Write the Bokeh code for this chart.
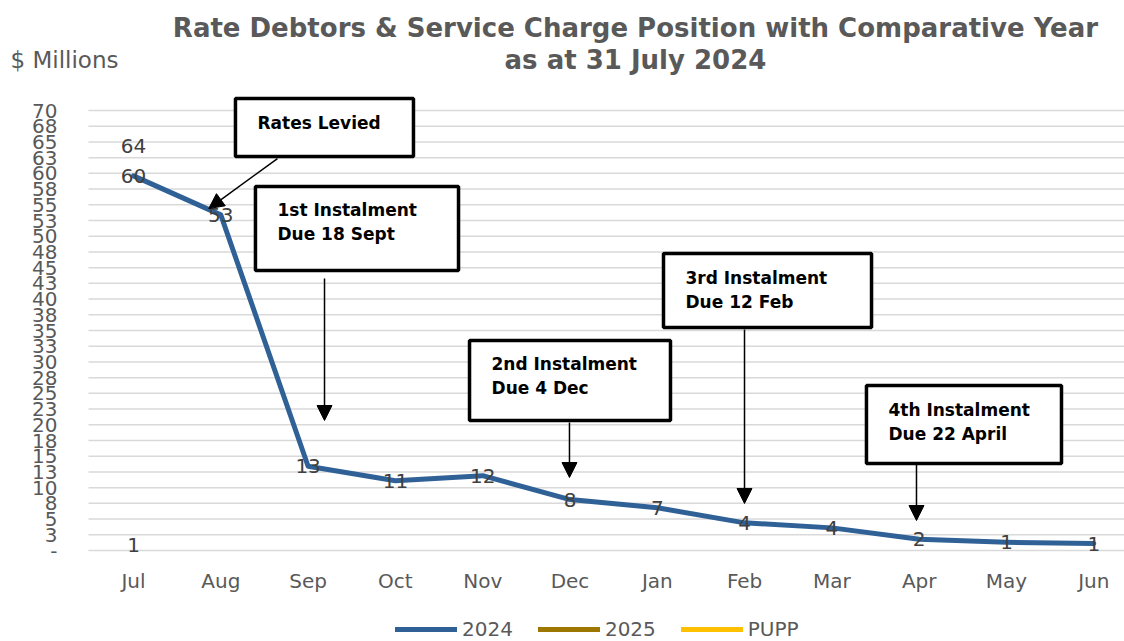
from bokeh.plotting import figure
from bokeh.models import (Range1d, Legend, LegendItem, BoxAnnotation,
                          Label, Arrow, NormalHead, ColumnDataSource)
from bokeh.core.properties import value
from bokeh.embed import file_html
from bokeh.resources import INLINE

# ---------------- data ----------------
months = ["Jul", "Aug", "Sep", "Oct", "Nov", "Dec", "Jan", "Feb", "Mar", "Apr", "May", "Jun"]
debtors_2024 = [59.6, 53.4, 13.4, 11.1, 11.9, 8.1, 6.8, 4.4, 3.6, 1.8, 1.3, 1.1]
debtors_2025 = [64.4]
pupp = [0.8]
y_tick_labels = ["-", "3", "5", "8", "10", "13", "15", "18", "20", "23", "25", "28", "30",
                 "33", "35", "38", "40", "43", "45", "48", "50", "53", "55", "58", "60",
                 "63", "65", "68", "70"]
y_step = 2.5

title_lines = ["Rate Debtors & Service Charge Position with Comparative Year",
               "as at 31 July 2024"]
y_axis_title = "$ Millions"

# callouts: text lines, box (left, right, top, bottom) in data units, arrow (x0, y0, x1, y1)
callouts = [
    (["Rates Levied"], (1.168, 3.207, 71.9, 62.68), (1.649, 62.36, 0.862, 54.4)),
    (["1st Instalment", "Due 18 Sept"], (1.397, 3.723, 57.91, 44.54), (2.188, 43.27, 2.188, 20.68)),
    (["3rd Instalment", "Due 12 Feb"], (6.071, 8.454, 47.25, 35.48), (6.999, 35.16, 6.999, 7.48)),
    (["2nd Instalment", "Due 4 Dec"], (3.849, 6.151, 33.41, 20.68), (4.994, 20.36, 4.994, 11.61)),
    (["4th Instalment", "Due 22 April"], (8.396, 10.63, 26.25, 13.84), (8.969, 13.68, 8.969, 4.77)),
]

# ---------------- styles / layout ----------------
FONT = "DejaVu Sans"
GREY = "#595959"
LABEL_GREY = "#404040"
C2024 = "#2F6197"
C2025 = "#9E7700"
CPUPP = "#FFC000"

W, H = 1124, 641
X0, X1 = -1.5235, 11.3517          # visible category span
Y0, Y1 = -14.477, 87.5             # visible value span
PX_PER_UNIT = H / (Y1 - Y0)
PX_PER_CAT = W / (X1 - X0)
GRID_LEFT = -0.5155                # left edge of the plot area
YLAB_X = -0.8706                   # right edge of the value labels
XLAB_Y = -4.773                    # centre line of the month labels

x = list(range(len(months)))
y_ticks = [i * y_step for i in range(len(y_tick_labels))]

p = figure(width=W, height=H, output_backend="svg", toolbar_location=None,
           x_axis_location=None, y_axis_location=None,
           x_range=Range1d(X0, X1), y_range=Range1d(Y0, Y1),
           min_border_left=0, min_border_right=0, min_border_top=0, min_border_bottom=0)
p.outline_line_color = None
p.background_fill_color = "white"
p.border_fill_color = "white"
p.grid.visible = False

# value gridlines and labels
p.segment(x0=[GRID_LEFT] * len(y_ticks), x1=[X1] * len(y_ticks), y0=y_ticks, y1=y_ticks,
          line_color="#D9D9D9", line_width=1.5)
p.text(x=[YLAB_X] * len(y_ticks), y=y_ticks, text=y_tick_labels, text_align="right",
       text_baseline="middle", text_font=value(FONT), text_font_size="20px", text_color=GREY)

# month labels
p.text(x=x, y=[XLAB_Y] * len(x), text=months, text_align="center", text_baseline="middle",
       text_font=value(FONT), text_font_size="20px", text_color=GREY)

# series
r24 = p.line(x, debtors_2024, line_color=C2024, line_width=5, line_join="round", line_cap="round")
r25 = p.line(x[:len(debtors_2025)], debtors_2025, line_color=C2025, line_width=5, line_cap="round")
rpp = p.line(x[:len(pupp)], pupp, line_color=CPUPP, line_width=5, line_cap="round")

# data labels
lab_x = x + x[:len(debtors_2025)] + x[:len(pupp)]
lab_y = debtors_2024 + debtors_2025 + pupp
lab_t = [f"{v:.0f}" for v in lab_y]
src = ColumnDataSource(dict(x=lab_x, y=lab_y, t=lab_t))
p.text("x", "y", text="t", source=src, text_align="center", text_baseline="middle",
       text_font=value(FONT), text_font_size="20px", text_color=LABEL_GREY)

# callouts
for lines, (l, r, t, b), (ax0, ay0, ax1, ay1) in callouts:
    p.add_layout(BoxAnnotation(left=l, right=r, top=t, bottom=b, fill_color="white",
                               fill_alpha=1, line_color="black", line_alpha=1, line_width=3.5))
    for k, line in enumerate(lines):
        p.add_layout(Label(x=l + 22 / PX_PER_CAT, y=t - (24 + 24 * k) / PX_PER_UNIT, text=line,
                           text_font=FONT, text_font_size="17px", text_font_style="bold",
                           text_color="black", text_baseline="alphabetic", text_align="left"))
    p.add_layout(Arrow(end=NormalHead(size=15, fill_color="black", line_color="black"),
                       x_start=ax0, y_start=ay0, x_end=ax1, y_end=ay1,
                       line_color="black", line_width=1.5))

# titles
p.add_layout(Label(x=5.75, y=83.2, text=title_lines[0], text_align="center",
                   text_baseline="alphabetic", text_font=FONT, text_font_size="26px",
                   text_font_style="bold", text_color=GREY))
p.add_layout(Label(x=5.75, y=78.1, text=title_lines[1], text_align="center",
                   text_baseline="alphabetic", text_font=FONT, text_font_size="26px",
                   text_font_style="bold", text_color=GREY))
p.add_layout(Label(x=-1.409, y=78.1, text=y_axis_title, text_align="left",
                   text_baseline="alphabetic", text_font=FONT, text_font_size="23px",
                   text_color=GREY))

legend = Legend(items=[LegendItem(label="2024", renderers=[r24]),
                       LegendItem(label="2025", renderers=[r25]),
                       LegendItem(label="PUPP", renderers=[rpp])],
                orientation="horizontal", location=(395, 0), glyph_width=62, glyph_height=20,
                label_standoff=5, spacing=25, padding=0, margin=0,
                border_line_color=None, background_fill_alpha=0,
                label_text_font=FONT, label_text_font_size="20px", label_text_color=GREY)
p.add_layout(legend, "center")

open("out.html", "w").write(file_html(p, INLINE))
